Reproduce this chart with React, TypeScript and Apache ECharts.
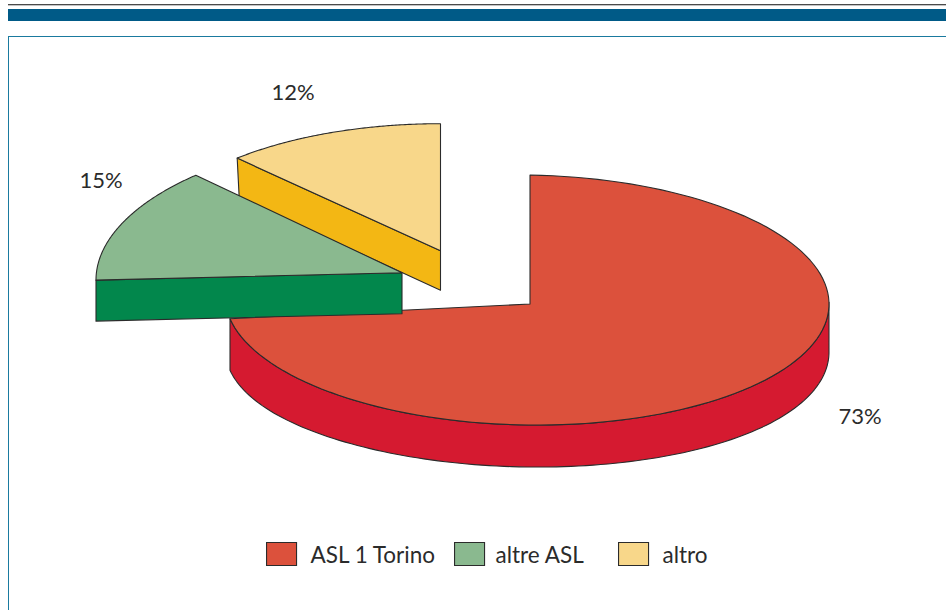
import React, { useEffect, useRef } from "react";
import * as echarts from "echarts";

// Shares of the three groups, in percent, clockwise from twelve o'clock.
const categories = ["ASL 1 Torino", "altre ASL", "altro"];
const shares = [73, 15, 12];
const topColors = ["#DC513C", "#8AB98F", "#F8D78A"];
const sideColors = ["#D51A30", "#02874C", "#F3B714"];

const FONT = "Lato";
const INK = "#2b2b2b";

// Drawing parameters of each exploded slice: pivot point, centre of its ellipse,
// radii, shear of the tilted plate, angular warp of the perspective view,
// thickness and where its label sits.
const plates = [
  { px: 530, py: 304, cx: 527, cy: 300, rx: 302, ry: 125, skew: 4, scale: 0.9855, shift: 0.57, depth: 42, swell: 6, leftSwell: 4, lx: 860, ly: 415.5 },
  { px: 402, py: 272.7, cx: 402, cy: 272.7, rx: 306, ry: 138.6, skew: -7.3, scale: 0.883, shift: 37.9, depth: 41, swell: 0, leftSwell: 0, lx: 101, ly: 179.5 },
  { px: 440.5, py: 250.7, cx: 440.5, cy: 250.7, rx: 297, ry: 127, skew: 0, scale: 1, shift: 0, depth: 39.5, swell: 0, leftSwell: 0, lx: 293, ly: 91.5 },
];

const toRad = (share: number) => (share / 100) * Math.PI * 2;

function startShare(index: number) {
  return shares.slice(0, index).reduce((a, b) => a + b, 0);
}

function rimPoint(i: number, angle: number, withDepth: boolean): number[] {
  const p = plates[i];
  const t = angle * p.scale + (p.shift * Math.PI) / 180;
  const s = Math.sin(t);
  const c = Math.cos(t);
  const x = p.cx + p.rx * s;
  let y = p.cy - p.ry * c + p.skew * s;
  if (withDepth) y += p.depth + p.swell * s * s + (s < 0 ? p.leftSwell * s * s * s * s : 0);
  return [x, y];
}

function rim(i: number, from: number, to: number, withDepth: boolean): number[][] {
  const steps = 120;
  const pts: number[][] = [];
  for (let k = 0; k <= steps; k++) {
    pts.push(rimPoint(i, from + ((to - from) * k) / steps, withDepth));
  }
  return pts;
}

function renderSlice(i: number) {
  return (_params: any, api: any) => {
    const p = plates[i];
    const value = api.value(0);
    const a0 = toRad(startShare(i));
    const a1 = a0 + toRad(value);
    const lineStyle = { stroke: INK, lineWidth: 1.1, lineJoin: "round" };
    const children: any[] = [];

    if (i === 0) {
      // The big plate shows its outer wall, from the right extreme round to its cut.
      const front = Math.PI / 2;
      const top = rim(i, front, a1, false);
      const bottom = rim(i, front, a1, true).reverse();
      children.push({
        type: "polygon",
        shape: { points: [...top, ...bottom] },
        style: { fill: sideColors[i], ...lineStyle },
      });
    } else {
      // The two small plates show the wall of their first cut edge.
      const [ex, ey] = rimPoint(i, a0, false);
      const d = p.depth;
      children.push({
        type: "polygon",
        shape: {
          points: [
            [ex, ey],
            [p.px, p.py],
            [p.px, p.py + d],
            [ex + (i === 2 ? 2 : 0), ey + d],
          ],
        },
        style: { fill: sideColors[i], ...lineStyle },
      });
    }

    children.push({
      type: "polygon",
      shape: { points: [[p.px, p.py], ...rim(i, a0, a1, false)] },
      style: { fill: topColors[i], ...lineStyle },
    });

    children.push({
      type: "text",
      style: {
        x: p.lx,
        y: p.ly,
        text: `${value}%`,
        fill: INK,
        font: `400 22px ${FONT}`,
        align: "center",
        verticalAlign: "middle",
      },
    });
    return { type: "group", children };
  };
}

// Slices are painted so that the green plate lies over the yellow wall.
const paintOrder = [0, 2, 1];

const legendSlots = [
  { left: 266, gap: 14 },
  { left: 454, gap: 11 },
  { left: 618, gap: 14 },
];

export default function App() {
  const ref = useRef<HTMLDivElement>(null);

  useEffect(() => {
    const chart = echarts.init(ref.current!, undefined, { renderer: "svg" });
    chart.setOption({
      animation: false,
      backgroundColor: "#ffffff",
      legend: categories.map((name, i) => ({
        data: [name],
        left: legendSlots[i].left,
        top: 542,
        padding: 0,
        icon: "rect",
        itemWidth: 30,
        itemHeight: 23,
        selectedMode: false,
        itemStyle: { borderColor: INK, borderWidth: 1.1 },
        textStyle: {
          fontFamily: FONT,
          fontSize: 22.5,
          color: INK,
          padding: [0, 0, 2, legendSlots[i].gap - 5],
        },
      })),
      series: paintOrder.map((i) => ({
        type: "custom",
        name: categories[i],
        coordinateSystem: "none",
        silent: true,
        itemStyle: { color: topColors[i] },
        data: [[shares[i]]],
        renderItem: renderSlice(i),
      })),
      graphic: [
        { type: "rect", shape: { x: 8, y: 4, width: 938, height: 1 }, style: { fill: "#4a4a4a" } },
        { type: "rect", shape: { x: 8, y: 5, width: 938, height: 1 }, style: { fill: "#c4c4c4" } },
        { type: "rect", shape: { x: 8, y: 9, width: 938, height: 12 }, style: { fill: "#005a87" } },
        { type: "rect", shape: { x: 8, y: 36, width: 938, height: 1 }, style: { fill: "#1a7a9f" } },
        { type: "rect", shape: { x: 8, y: 36, width: 1, height: 574 }, style: { fill: "#1a7a9f" } },
      ],
    });
    return () => chart.dispose();
  }, []);

  return <div ref={ref} style={{ position: "absolute", left: 0, top: 0, width: 946, height: 610 }} />;
}
